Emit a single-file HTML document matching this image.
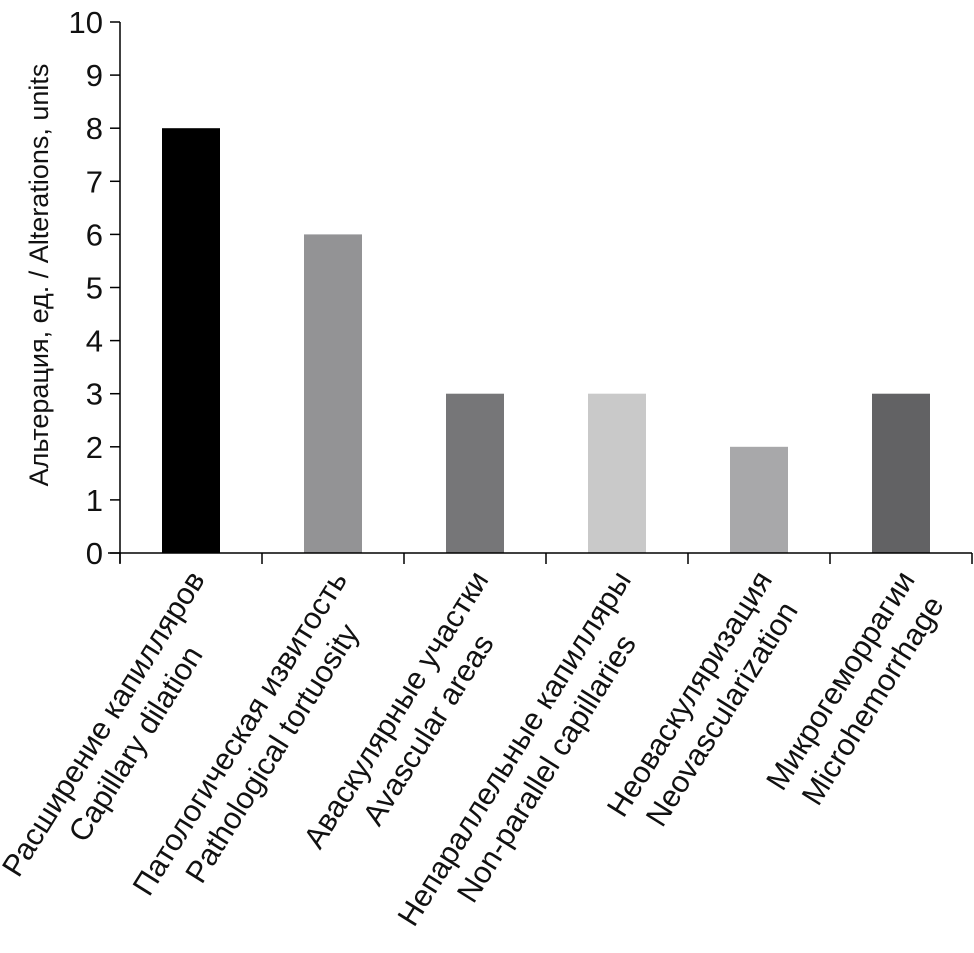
<!DOCTYPE html>
<html><head><meta charset="utf-8"><style>
body{margin:0;background:#fff;width:974px;height:946px;overflow:hidden;position:relative;font-family:"Liberation Sans","DejaVu Sans",sans-serif;}
.lbl{position:absolute;white-space:nowrap;text-align:center;font-size:30.5px;line-height:38px;color:#111;transform-origin:100% 0;transform:rotate(-58deg);}
</style></head><body>
<svg id="chart" width="974" height="946" style="position:absolute;left:0;top:0" font-family="Liberation Sans, DejaVu Sans, sans-serif"></svg>
<div id="labels"></div>
<script>
const categories=[["Расширение капилляров","Capillary dilation"],["Патологическая извитость","Pathological tortuosity"],["Аваскулярные участки","Avascular areas"],["Непараллельные капилляры","Non-parallel capillaries"],["Неоваскуляризация","Neovascularization"],["Микрогеморрагии","Microhemorrhage"]];
const values=[8,6,3,3,2,3];
const colors=["#000000","#939395","#767678","#c9c9c9","#a8a8aa","#626264"];
const yTicks=[0,1,2,3,4,5,6,7,8,9,10];
const NS="http://www.w3.org/2000/svg";
const svg=document.getElementById('chart');
const x0=120,x1=972,y0=553,yTop=22;
const y=v=>y0-(v/10)*(y0-yTop);
const bw=(x1-x0)/categories.length;
const xc=i=>x0+bw*(i+0.5);
function mk(t,a){const e=document.createElementNS(NS,t);for(const k in a)e.setAttribute(k,a[k]);svg.appendChild(e);return e;}
values.forEach((v,i)=>{
 const r=mk('rect',{x:xc(i)-29,y:y(v),width:58,height:y0-y(v),fill:colors[i]});
 
 
});
const ya=mk('line',{x1:x0,y1:yTop,x2:x0,y2:y0+10,stroke:'#000','stroke-width':1.5});


const xa=mk('line',{x1:x0-12,y1:y0,x2:x1,y2:y0,stroke:'#000','stroke-width':1.5});


yTicks.forEach(t=>{
 mk('line',{x1:x0-10,y1:y(t),x2:x0,y2:y(t),stroke:'#000','stroke-width':1.5});
 const tx=mk('text',{x:x0-17,y:y(t)+11,'text-anchor':'end','font-size':31,fill:'#111'});
 tx.textContent=t;
 
 
});
for(let i=0;i<=categories.length;i++){mk('line',{x1:x0+bw*i,y1:y0,x2:x0+bw*i,y2:y0+11,stroke:'#000','stroke-width':1.5});}
const yt=mk('text',{x:0,y:0,'text-anchor':'middle','font-size':27,fill:'#111',transform:'translate(48,275) rotate(-90)'});
yt.textContent='Альтерация, ед. / Alterations, units';


const L=document.getElementById('labels');
categories.forEach((c,i)=>{
 const d=document.createElement('div');
 d.className='lbl';
 
 
 d.innerHTML=c[0]+'<br>'+c[1];
 L.appendChild(d);
 const w=d.offsetWidth;
 d.style.left=(xc(i)-10-w)+'px';
 d.style.top='564px';
});
</script>
</body></html>
